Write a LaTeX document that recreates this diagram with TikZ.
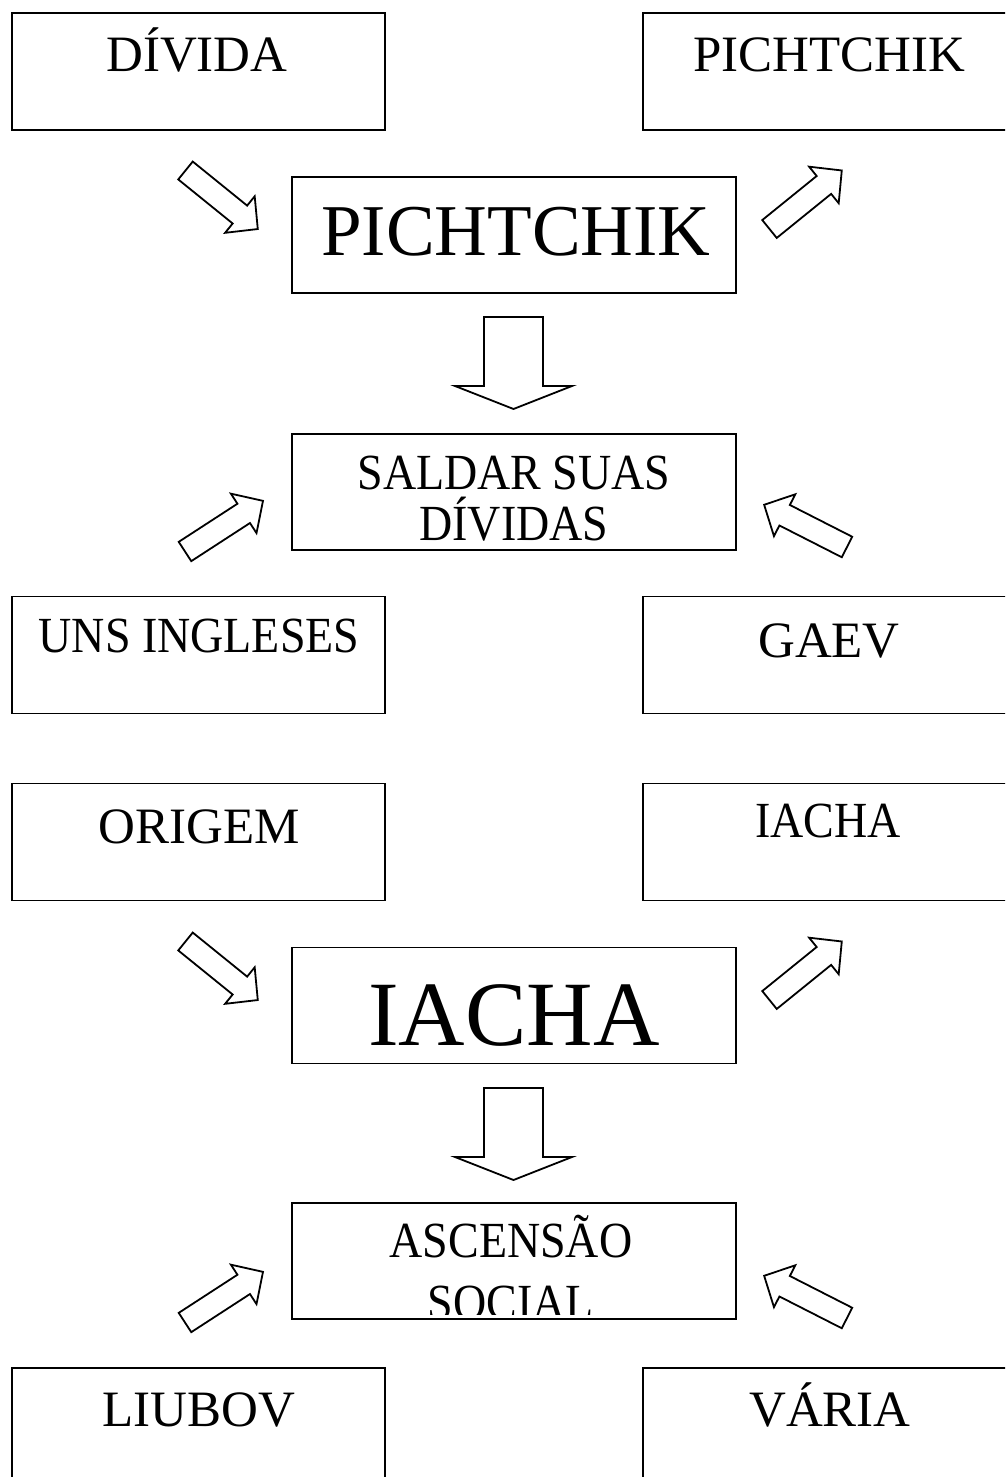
\documentclass[tikz,border=0pt]{standalone}
\usepackage{fontspec}
\setmainfont{Liberation Serif}
\usepackage{tikz}
\usetikzlibrary{calc}
\usetikzlibrary{positioning}
\tikzset{>=latex}
\tikzstyle{sidebox} = [draw, line width=1.8pt, minimum width=373pt, minimum height=117pt, inner sep=0]
\tikzstyle{midbox} = [draw, line width=1.8pt, minimum width=444pt, minimum height=116pt, inner sep=0]
\tikzstyle{txt} = [draw=none, inner sep=0, anchor=base, font=\fontsize{51}{56}\selectfont]
\tikzstyle{smalltxt} = [txt, font=\fontsize{46}{45.5}\selectfont, align=center, yscale=1.1, transform shape]
\tikzstyle{arrowline} = [line width=1.8pt, line join=miter, fill=white]
\tikzset{
  pics/barrow/.style n args={4}{code={
    \draw [arrowline] (0,-#1) -- (#3,-#1) -- (#3,-#2) -- (#4,0) -- (#3,#2) -- (#3,#1) -- (0,#1) -- cycle;
  }}
}

\begin{document}
\begin{tikzpicture}[x=1pt, y=-1pt]
\useasboundingbox (0,0) rectangle (1005,1477);
\clip (0,0) rectangle (1005,1477);

% first group
\node [sidebox] (divida) at (198.5, 71.5) {};
\node [sidebox] (pichtop) at (829.5, 71.5) {};
\node [midbox] (pich) at (514, 235) {};
\node [midbox] (saldar) at (514, 492) {};
\node [sidebox] (ingleses) at (198.5, 655) {};
\node [sidebox] (gaev) at (829.5, 655) {};

\node [txt] (tdivida) at (197, 72) {DÍVIDA};
\node [txt] (tpichtop) at (829.5, 72) {PICHTCHIK};
\node [txt, font=\fontsize{73}{80}\selectfont] (tpich) at (516, 255) {PICHTCHIK};
\node [smalltxt] (tsaldar) at (514, 540) {SALDAR SUAS\\DÍVIDAS};
\node [smalltxt] (tingleses) at (199, 652) {UNS INGLESES};
\node [txt] (tgaev) at (829, 657) {GAEV};

\pic [rotate=-39] at (185.5, 170.5) {barrow={11.5}{23.5}{70}{93}};
\pic [rotate=39] at (769.5, 229) {barrow={11.5}{23.5}{70}{93}};
\pic [rotate=-90] at (513.5, 317) {barrow={29.5}{58.5}{69}{92}};
\pic [rotate=33] at (185, 551.5) {barrow={11.5}{23.5}{70}{93}};
\pic [rotate=153] at (847, 547) {barrow={11.5}{23.5}{70}{93}};

% second group
\node [sidebox] (origem) at (198.5, 842) {};
\node [sidebox] (iachatop) at (829.5, 842) {};
\node [midbox] (iacha) at (514, 1005.5) {};
\node [midbox] (ascensao) at (514, 1261) {};
\node [sidebox] (liubov) at (198.5, 1426.5) {};
\node [sidebox] (varia) at (829.5, 1426.5) {};

\node [txt] (torigem) at (199, 843) {ORIGEM};
\node [smalltxt] (tiachatop) at (828, 837) {IACHA};
\node [txt, font=\fontsize{92}{100}\selectfont] (tiacha) at (514, 1045) {IACHA};
\begin{scope}
  \clip ([shift={(2,2)}]ascensao.north west) rectangle ([shift={(-2,-5)}]ascensao.south east);
  \node [smalltxt, font=\fontsize{46}{56}\selectfont] (tascensao) at (511, 1319) {ASCENSÃO\\SOCIAL};
\end{scope}
\node [txt] (tliubov) at (199, 1426) {LIUBOV};
\node [txt] (tvaria) at (830, 1426) {VÁRIA};

\pic [rotate=-39] at (185.5, 941.5) {barrow={11.5}{23.5}{70}{93}};
\pic [rotate=39] at (769.5, 1000) {barrow={11.5}{23.5}{70}{93}};
\pic [rotate=-90] at (513.5, 1088) {barrow={29.5}{58.5}{69}{92}};
\pic [rotate=33] at (185, 1322.5) {barrow={11.5}{23.5}{70}{93}};
\pic [rotate=153] at (847, 1318) {barrow={11.5}{23.5}{70}{93}};
\end{tikzpicture}
\end{document}
